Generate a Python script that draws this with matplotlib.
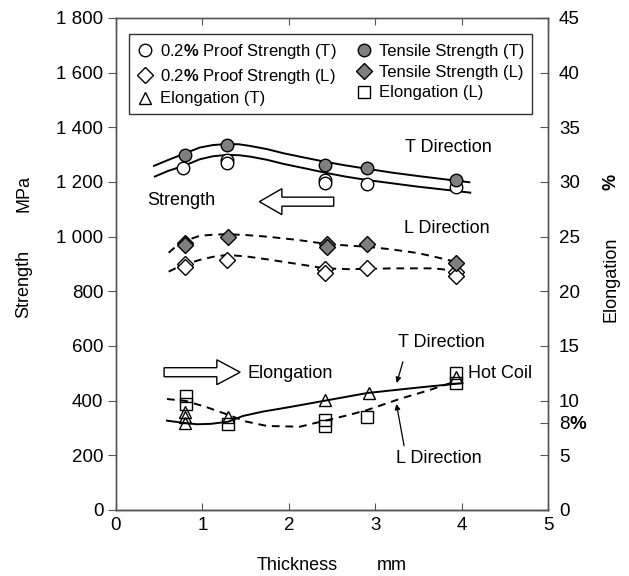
import matplotlib
matplotlib.use("Agg")
import matplotlib.pyplot as plt
from matplotlib.patches import FancyArrow
from matplotlib.lines import Line2D

plt.rcParams["font.family"] = ["Liberation Sans", "DejaVu Sans"]
plt.rcParams["mathtext.fontset"] = "custom"
plt.rcParams["mathtext.rm"] = "Liberation Sans"
plt.rcParams["mathtext.bf"] = "Liberation Sans:bold"

# measured points (thickness mm, strength MPa / elongation %)
ts_t_x = [0.8, 1.28, 2.42, 2.91, 3.93]
ts_t_y = [1299, 1336, 1262, 1250, 1207]
ps_t_x = [0.78, 1.28, 1.28, 2.42, 2.42, 2.91, 3.93]
ps_t_y = [1250, 1281, 1271, 1207, 1198, 1193, 1181]
ts_l_x = [0.8, 0.8, 1.3, 2.44, 2.44, 2.91, 3.94]
ts_l_y = [978, 970, 1000, 972, 963, 973, 905]
ps_l_x = [0.8, 0.8, 1.28, 2.42, 2.42, 2.91, 3.93, 3.93]
ps_l_y = [900, 890, 915, 881, 868, 884, 872, 857]
el_t_x = [0.8, 0.8, 0.8, 1.3, 2.42, 2.93, 3.93]
el_t_y = [9.0, 8.5, 8.0, 8.5, 10.1, 10.7, 12.2]
el_l_x = [0.81, 0.81, 1.3, 2.42, 2.42, 2.91, 3.93, 3.93]
el_l_y = [10.4, 9.7, 7.9, 8.2, 7.7, 8.5, 12.5, 11.6]

# trend curves
cv_ts_t_x = [0.44, 0.6, 0.8, 0.97, 1.12, 1.28, 1.42, 1.55, 1.75, 1.94, 2.2, 2.42, 2.65, 2.91, 3.2, 3.49, 3.8, 4.09]
cv_ts_t_y = [1259, 1280, 1305, 1326, 1335, 1339, 1338, 1332, 1320, 1305, 1288, 1274, 1261, 1248, 1234, 1222, 1210, 1199]
cv_ps_t_x = [0.45, 0.6, 0.8, 0.97, 1.12, 1.28, 1.42, 1.55, 1.75, 1.94, 2.2, 2.42, 2.65, 2.91, 3.2, 3.49, 3.8, 4.1]
cv_ps_t_y = [1220, 1240, 1261, 1283, 1294, 1299, 1298, 1293, 1281, 1266, 1249, 1234, 1220, 1207, 1195, 1183, 1172, 1161]
cv_ts_l_x = [0.61, 0.7, 0.8, 0.97, 1.12, 1.28, 1.5, 1.75, 2.1, 2.42, 2.7, 2.91, 3.2, 3.49, 3.68, 3.85, 4.03]
cv_ts_l_y = [941, 966, 985, 1003, 1007, 1009, 1006, 1000, 988, 974, 967, 963, 953, 940, 927, 914, 900]
cv_ps_l_x = [0.61, 0.7, 0.8, 0.97, 1.12, 1.28, 1.5, 1.75, 2.1, 2.42, 2.7, 2.91, 3.2, 3.49, 3.68, 3.85, 3.99]
cv_ps_l_y = [872, 886, 898, 915, 926, 933, 928, 917, 900, 884, 881, 882, 884, 884, 884, 878, 868]
cv_el_t_x = [0.59, 0.8, 0.94, 1.1, 1.3, 1.47, 1.7, 2.0, 2.42, 2.91, 3.5, 4.01]
cv_el_t_y = [8.17, 7.95, 7.84, 7.88, 8.08, 8.6, 9.0, 9.4, 10.0, 10.7, 11.2, 11.6]
cv_el_l_x = [0.59, 0.81, 1.05, 1.3, 1.5, 1.75, 2.13, 2.42, 2.7, 2.91, 3.3, 3.6, 3.87]
cv_el_l_y = [10.15, 9.97, 9.4, 8.7, 8.1, 7.68, 7.62, 8.17, 8.7, 9.15, 10.2, 10.9, 11.6]

left_ticks = [0, 200, 400, 600, 800, 1000, 1200, 1400, 1600, 1800]
left_labels = ["0", "200", "400", "600", "800", "1 000", "1 200", "1 400", "1 600", "1 800"]
right_ticks = [0, 5, 8, 10, 15, 20, 25, 30, 35, 40, 45]
right_labels = ["0", "5", r"8$\mathbf{\%}$", "10", "15", "20", "25", "30", "35", "40", "45"]

grey = "#7f7f7f"
spine_c = "#555555"

fig = plt.figure(figsize=(6.29, 5.76), dpi=100)
ax = fig.add_axes([0.1844, 0.1146, 0.6868, 0.8542])
ax2 = ax.twinx()

ax.set_xlim(0, 5)
ax.set_ylim(0, 1800)
ax2.set_ylim(0, 45)

lw = 1.4
dash = (0, (4, 3))
ax.plot(cv_ts_t_x, cv_ts_t_y, color="black", lw=lw)
ax.plot(cv_ps_t_x, cv_ps_t_y, color="black", lw=lw)
ax.plot(cv_ts_l_x, cv_ts_l_y, color="black", lw=lw, ls=dash)
ax.plot(cv_ps_l_x, cv_ps_l_y, color="black", lw=lw, ls=dash)
ax2.plot(cv_el_t_x, cv_el_t_y, color="black", lw=lw)
ax2.plot(cv_el_l_x, cv_el_l_y, color="black", lw=lw, ls=dash)

ms = 9
mk = dict(ls="none", markeredgecolor="black", markeredgewidth=1.0, markersize=ms)
ax.plot(ps_t_x, ps_t_y, marker="o", markerfacecolor="white", **mk)
ax.plot(ts_t_x, ts_t_y, marker="o", markerfacecolor=grey, **mk)
ax.plot(ps_l_x, ps_l_y, marker="D", markerfacecolor="white", **dict(mk, markersize=8))
ax.plot(ts_l_x, ts_l_y, marker="D", markerfacecolor=grey, **dict(mk, markersize=8))
ax2.plot(el_t_x, el_t_y, marker="^", markerfacecolor="none", **mk)
ax2.plot(el_l_x, el_l_y, marker="s", markerfacecolor="none", **dict(mk, markersize=8))

# block arrows
ax.add_patch(FancyArrow(2.52, 1128, -0.86, 0, width=33, head_width=95, head_length=0.26,
                        length_includes_head=True, fc="white", ec="black", lw=1))
ax.add_patch(FancyArrow(0.557, 504, 0.88, 0, width=33, head_width=91, head_length=0.27,
                        length_includes_head=True, fc="white", ec="black", lw=1))

fs = 13
ax.text(0.356, 1134, "Strength", fontsize=fs, va="center")
ax.text(3.34, 1326, "T Direction", fontsize=fs, va="center")
ax.text(3.33, 1031, "L Direction", fontsize=fs, va="center")
ax.text(1.52, 500, "Elongation", fontsize=fs, va="center")
ax.text(4.07, 498, "Hot Coil", fontsize=fs, va="center")
ax.text(3.26, 611, "T Direction", fontsize=fs, va="center")
ax.text(3.24, 190, "L Direction", fontsize=fs, va="center")
ax.annotate("", xy=(3.24, 455), xytext=(3.33, 552),
            arrowprops=dict(arrowstyle="-|>", color="black", lw=0.9, mutation_scale=8))
ax.annotate("", xy=(3.24, 398), xytext=(3.34, 225),
            arrowprops=dict(arrowstyle="-|>", color="black", lw=0.9, mutation_scale=8))

# axes styling
tfs = 13.5
ax.set_xticks([0, 1, 2, 3, 4, 5])
ax.set_yticks(left_ticks)
ax.set_yticklabels(left_labels)
ax2.set_yticks(right_ticks)
ax2.set_yticklabels(right_labels)
ax.tick_params(axis="x", direction="in", top=True, length=5, labelsize=tfs, pad=5, color=spine_c)
ax.tick_params(axis="y", direction="out", length=6, labelsize=tfs, pad=3, color=spine_c)
ax2.tick_params(axis="y", direction="in", length=6, labelsize=tfs, pad=8, color=spine_c)
for a in (ax, ax2):
    for s in a.spines.values():
        s.set_color(spine_c)
        s.set_linewidth(1.0)
ax.spines["bottom"].set_color("black")

# axis titles
fig.text(24 / 629, 1 - 284 / 576, "Strength", rotation=90, ha="center", va="center", fontsize=fs)
fig.text(24 / 629, 1 - 193 / 576, "MPa", rotation=90, ha="center", va="center", fontsize=fs)
fig.text(611 / 629, 1 - 279 / 576, "Elongation", rotation=90, ha="center", va="center", fontsize=fs)
fig.text(611 / 629, 1 - 182 / 576, "%", rotation=90, ha="center", va="center", fontsize=fs,
         fontweight="bold")
fig.text(297 / 629, 1 - 565 / 576, "Thickness", ha="center", va="center", fontsize=fs)
fig.text(392 / 629, 1 - 565 / 576, "mm", ha="center", va="center", fontsize=fs)

# legend
hk = dict(ls="none", markeredgecolor="black", markeredgewidth=1.0, markersize=ms)
handles = [
    Line2D([], [], marker="o", markerfacecolor="white", **hk),
    Line2D([], [], marker="D", markerfacecolor="white", **dict(hk, markersize=8)),
    Line2D([], [], marker="^", markerfacecolor="white", **hk),
    Line2D([], [], marker="o", markerfacecolor=grey, **hk),
    Line2D([], [], marker="D", markerfacecolor=grey, **dict(hk, markersize=8)),
    Line2D([], [], marker="s", markerfacecolor="white", **dict(hk, markersize=8)),
]
labels = [r"0.2$\mathbf{\%}$ Proof Strength (T)", r"0.2$\mathbf{\%}$ Proof Strength (L)",
          "Elongation (T)", "Tensile Strength (T)", "Tensile Strength (L)", "Elongation (L)"]
leg = ax2.legend(handles, labels, ncol=2, loc="upper left", bbox_to_anchor=(0.031, 0.967),
                 fontsize=12, frameon=True, fancybox=False, edgecolor="black",
                 handlelength=1.0, handletextpad=0.4, columnspacing=1.15,
                 labelspacing=0.35, borderpad=0.45, borderaxespad=0)
leg.get_frame().set_linewidth(1.0)

fig.savefig("out.png", dpi=100)
